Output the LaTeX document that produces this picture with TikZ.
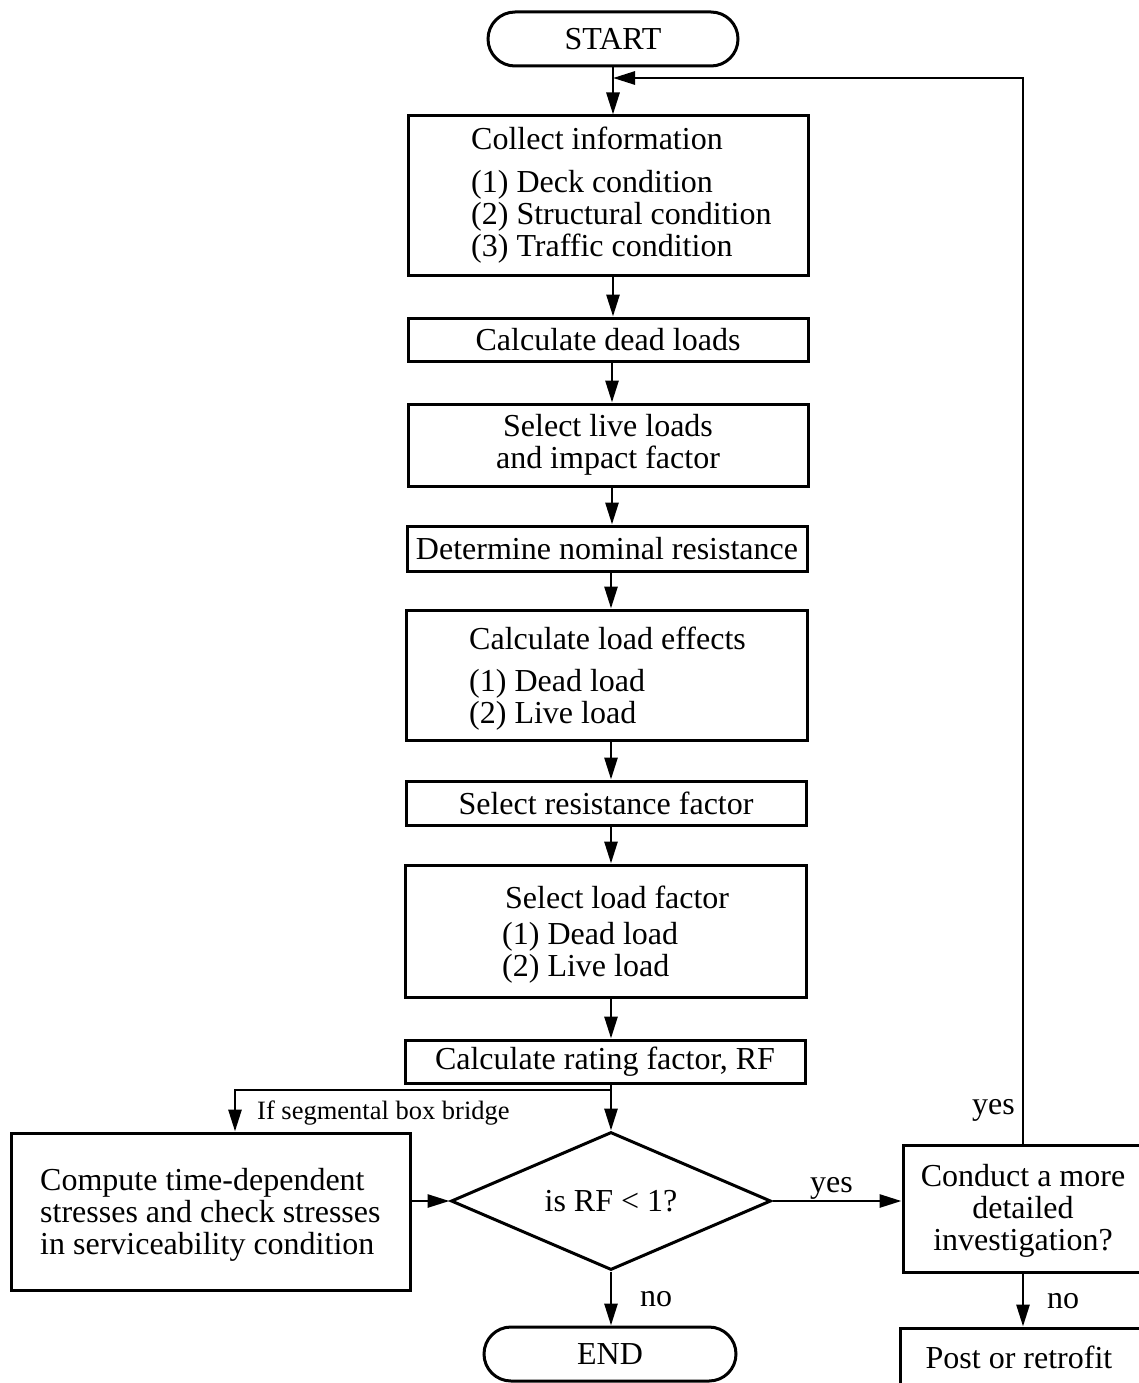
\documentclass[tikz,border=0pt]{standalone}
\usepackage{fontspec}
\setmainfont{Liberation Serif}
\usetikzlibrary{arrows.meta,shapes.geometric,calc}
\newcommand\flowfont{\fontsize{32}{32}\selectfont}
\newcommand\notefont{\fontsize{26.5}{26.5}\selectfont}
\begin{document}
\begin{tikzpicture}[x=1pt,y=-1pt,
  box/.style={draw, line width=3pt, inner sep=0pt, minimum width=400pt, align=center, font=\flowfont},
  term/.style={draw, line width=3pt, inner sep=0pt, rounded corners=27pt, minimum width=252pt, minimum height=54pt, font=\flowfont},
  txt/.style={inner sep=0pt, align=left, font=\flowfont},
  lbl/.style={inner sep=0pt, font=\flowfont},
  arr/.style={line width=2.8pt, -{Triangle[length=22pt,width=13pt]}}]
\useasboundingbox (0,0) rectangle (1138,1383);

% terminals
\node[term, minimum width=250pt] (start) at (613,39) {START};
\node[term] (end) at (610,1354) {END};

% main column of steps
\node[box, minimum height=159pt] (collect) at (608,195.5) {};
\node[txt, anchor=base west] (collecttitle) at (471,150) {Collect information};
\node[txt, anchor=west] (collectlist) at (471,217) {(1) Deck condition\\(2) Structural condition\\(3) Traffic condition};

\node[box, minimum height=43pt] (dead) at (608,339.5) {Calculate dead loads};
\node[box, minimum height=82pt] (live) at (608,445) {Select live loads\\and impact factor};
\node[box, minimum height=45pt] (nominal) at (607,548.5) {Determine nominal resistance};

\node[box, minimum width=401pt, minimum height=130pt] (effects) at (606.5,675) {};
\node[txt, anchor=base west] (effectstitle) at (469,649) {Calculate load effects};
\node[txt, anchor=west] (effectslist) at (469,700) {(1) Dead load\\(2) Live load};

\node[box, minimum height=44pt] (resist) at (606,803) {Select resistance factor};

\node[box, minimum width=401pt, minimum height=132pt] (loadf) at (605.5,931) {};
\node[txt, anchor=base west] (loadftitle) at (505,908) {Select load factor};
\node[txt, anchor=west] (loadflist) at (502,953) {(1) Dead load\\(2) Live load};

\node[box, minimum height=43pt] (rf) at (605,1061.5) {Calculate rating factor, RF};

% decision
\node[diamond, draw, line width=3pt, inner sep=0pt, aspect=2.3,
      minimum width=320pt, minimum height=138pt, font=\flowfont] (dia) at (611,1201) {is RF < 1?};

% side boxes (the right-hand ones run off the edge of the page)
\node[box, minimum width=399pt, minimum height=157pt] (compute) at (210.5,1211.5) {};
\node[txt, anchor=west] (computetext) at (40,1214.5) {Compute time-dependent\\stresses and check stresses\\in serviceability condition};

\node[box, minimum width=250pt, minimum height=127pt] (conduct) at (1028,1208.5) {};
\node[txt, align=center] (conducttext) at (1023,1211) {Conduct a more\\detailed\\investigation?};
\node[box, minimum width=256pt, minimum height=64pt] (post) at (1028,1360) {};
\node[lbl] (posttext) at (1019,1357) {Post or retrofit};

% connectors along the main column
\coordinate (fb) at (613,78);
\coordinate (loopx) at (1023,0);
\draw[arr] (start.south) -- (start.south |- collect.north);
\draw[arr] (collect.south -| start.south) -- (start.south |- dead.north);
\draw[arr] (dead.south -| 612,0) -- (612,0 |- live.north);
\draw[arr] (live.south -| 612,0) -- (612,0 |- nominal.north);
\draw[arr] (nominal.south -| 611,0) -- (611,0 |- effects.north);
\draw[arr] (effects.south -| 611,0) -- (611,0 |- resist.north);
\draw[arr] (resist.south -| 611,0) -- (611,0 |- loadf.north);
\draw[arr] (loadf.south -| 611,0) -- (611,0 |- rf.north);
\draw[arr] (rf.south -| dia.north) -- (dia.north);

% branch for segmental box bridges
\coordinate (br) at (611,1090);
\draw[arr] (br) -- (235,1090) -- (235,0 |- compute.north);
\node[inner sep=0pt, font=\notefont, anchor=base west] (seglbl) at (257,1119) {If segmental box bridge};
\draw[arr] (compute.east |- dia.west) -- (dia.west);

% decision outcomes
\draw[arr] (dia.east) -- (dia.east -| conduct.west);
\node[lbl, anchor=base west] (yes1) at (810,1192) {yes};
\draw[arr] (dia.south) -- (dia.south |- end.north);
\node[lbl, anchor=base west] (no1) at (640,1306) {no};

\draw[arr] (conduct.north -| loopx) -- (loopx |- fb) -- (fb);
\node[lbl, anchor=base east] (yes2) at (1015,1114) {yes};
\draw[arr] (conduct.south -| loopx) -- (loopx |- post.north);
\node[lbl, anchor=base west] (no2) at (1047,1308) {no};
\end{tikzpicture}
\end{document}
